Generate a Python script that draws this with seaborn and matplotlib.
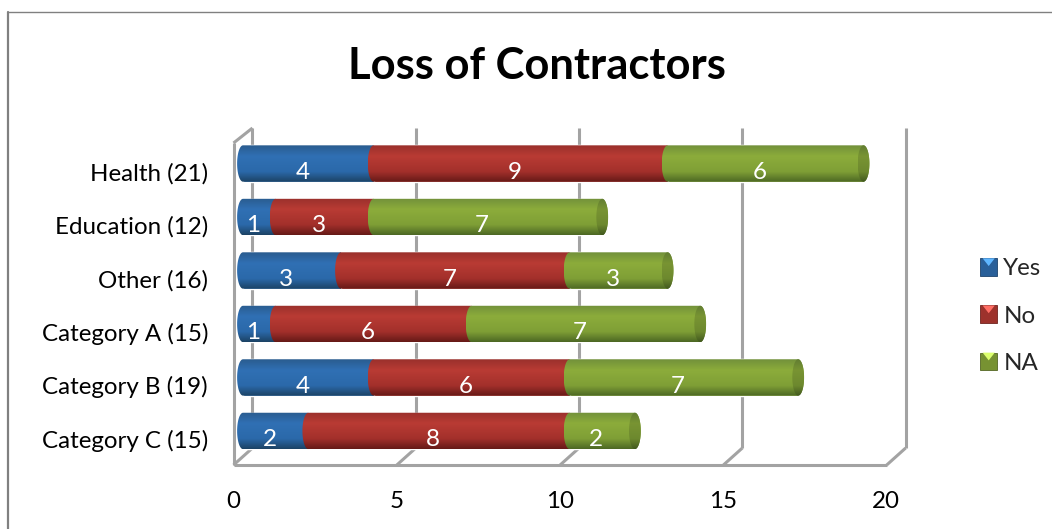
import numpy as np
import pandas as pd
import seaborn as sns
import matplotlib.pyplot as plt
from matplotlib.colors import to_rgb
from matplotlib.legend_handler import HandlerBase
from matplotlib.lines import Line2D
from matplotlib.patches import PathPatch, Polygon, Rectangle
from matplotlib.path import Path
from matplotlib.transforms import ScaledTranslation

categories = ['Health (21)', 'Education (12)', 'Other (16)',
              'Category A (15)', 'Category B (19)', 'Category C (15)']
yes_vals = [4, 1, 3, 1, 4, 2]
no_vals = [9, 3, 7, 6, 6, 8]
na_vals = [6, 7, 3, 7, 7, 2]
x_ticks = [0, 5, 10, 15, 20]

W, H = 1052, 529
DEPTH = 0.29  # half of the 3d depth, in x units
CAP = 0.18    # ellipse at the bar ends

blue = ['#2a5c8f', '#3070b4', '#2b69aa', '#1c4365']
red = ['#9a302c', '#b93b34', '#a3302b', '#661a17']
green = ['#72913a', '#8cac3b', '#7f9f36', '#4d6824']
grey = '#a3a3a3'

sns.set_theme(style='white')
plt.rcParams['font.family'] = ['Lato', 'DejaVu Sans']

df = pd.DataFrame({'cat': categories, 'Yes': yes_vals, 'No': no_vals, 'NA': na_vals})

fig = plt.figure(figsize=(W / 100, H / 100), dpi=100)
ax = fig.add_axes([233 / W, 1 - 465 / H, 672 / W, 337 / H])

series = [('Yes', blue), ('No', red), ('NA', green)]
left = np.zeros(len(categories))
starts = {}
for name, cols in series:
    starts[name] = left.copy()
    sns.barplot(data=df, y='cat', x=name, color=cols[1], left=left, width=0.68,
                orient='h', label=name, ax=ax, zorder=3, saturation=1)
    left = left + df[name].to_numpy()


def make_grad(cols, scale=1.0):
    stops = [0, 0.3, 0.72, 1]
    rgb = np.array([to_rgb(c) for c in cols]) * scale
    pos = np.linspace(0, 1, 64)
    return np.stack([np.interp(pos, stops, rgb[:, i]) for i in range(3)], axis=1)[:, None, :]


def cylinder(x0, x1, yc, h, cols, z, right_cap=False):
    # vertical shading clipped to a bar shape with a rounded left side
    t = np.linspace(-np.pi / 2, np.pi / 2, 40)
    yy = yc + h / 2 * np.sin(t)
    xl = x0 - CAP * np.cos(t)
    if right_cap:
        xr = x1 + CAP * np.cos(t)[::-1]
    else:
        xr = np.full(t.shape, x1)
    verts = np.vstack([np.c_[xl, yy], np.c_[xr, yy[::-1]], [xl[0], yy[0]]])
    codes = [Path.MOVETO] + [Path.LINETO] * (len(verts) - 2) + [Path.CLOSEPOLY]
    im = ax.imshow(make_grad(cols), extent=(x0 - CAP, x1 + CAP, yc + h / 2, yc - h / 2),
                   aspect='auto', zorder=z, interpolation='bilinear')
    im.set_clip_path(PathPatch(Path(verts, codes), transform=ax.transData))


label_shift = ScaledTranslation(-6 / 100, -9 / 100, fig.dpi_scale_trans)
for s, (name, cols) in enumerate(series):
    vals = df[name].to_numpy()
    for i, v in enumerate(vals):
        x0 = starts[name][i]
        cylinder(x0, x0 + v, i, 0.68, cols, 4 + s, right_cap=(name == 'NA'))
        ax.text(x0 + v / 2, i, str(v), color='white', fontsize=17.5, ha='center',
                va='center', zorder=10, transform=ax.transData + label_shift)
    if name == 'NA':
        # darker end of the cylinder
        for i, v in enumerate(vals):
            end = starts[name][i] + v
            t = np.linspace(0, 2 * np.pi, 60)
            verts = np.c_[end + CAP * np.cos(t), i + 0.34 * np.sin(t)]
            im = ax.imshow(make_grad(cols, 0.86), extent=(end - CAP, end + CAP, i + 0.34, i - 0.34),
                           aspect='auto', zorder=8, interpolation='bilinear')
            im.set_clip_path(PathPatch(Path(verts), transform=ax.transData))

ax.set_xlim(-0.306, 20.27)
ax.set_ylim(5.637, -0.664)
for sp in ax.spines.values():
    sp.set_visible(False)
ax.set_xlabel('')
ax.set_ylabel('')
ax.set_xticks(x_ticks)
ax.tick_params(axis='both', length=0)
ax.tick_params(axis='x', labelsize=17.4, pad=19, labelcolor='black')
ax.tick_params(axis='y', labelsize=17.4, pad=18, labelcolor='black')
shift_x = ScaledTranslation(-10 / 100, 0, fig.dpi_scale_trans)
shift_y = ScaledTranslation(0, -8 / 100, fig.dpi_scale_trans)
for lab in ax.get_xticklabels():
    lab.set_transform(lab.get_transform() + shift_x)
for lab in ax.get_yticklabels():
    lab.set_transform(lab.get_transform() + shift_y)

# 3d box: back wall verticals, floor, left side
y_back = 5.637 - 17 / 53.5
y_top = -0.664
y_side = -0.664 + 15 / 53.5
line_kw = dict(color=grey, lw=2.2, zorder=1, clip_on=False, solid_capstyle='butt')
for t in x_ticks:
    ax.plot([t + DEPTH, t + DEPTH], [y_top, y_back], **line_kw)
    ax.plot([t - DEPTH, t + DEPTH], [5.637, y_back], **line_kw)
ax.plot([-DEPTH, 20 - DEPTH], [5.637, 5.637], **line_kw)
ax.plot([-DEPTH, -DEPTH], [5.637, y_side], **line_kw)
ax.plot([-DEPTH, DEPTH], [y_side, y_top], **line_kw)

# chart frame, open on the right and bottom
fig.add_artist(Line2D([8 / W, 8 / W], [0, 1 - 12 / H], color='#808080', lw=1.6))
fig.add_artist(Line2D([8 / W, 1], [1 - 12 / H, 1 - 12 / H], color='#808080', lw=1))

fig.text(537 / W, 1 - 66 / H, 'Loss of Contractors', fontsize=31.3, fontweight='bold',
         color='black', ha='center', va='center')


class BevelHandler(HandlerBase):
    # legend key: flat square with a lighter triangle along the top
    def create_artists(self, legend, orig, xd, yd, width, height, fontsize, trans):
        col = np.array(to_rgb(orig.patches[0].get_facecolor()))
        base = Rectangle((-xd, -yd), width, height, facecolor=col * 0.85,
                         edgecolor=col * 0.6, lw=0.6, transform=trans)
        light = np.clip(col * 1.35 + 0.12, 0, 1)
        tri = Polygon([(-xd + 0.15 * width, -yd + height), (-xd + 0.85 * width, -yd + height),
                       (-xd + 0.5 * width, -yd + 0.55 * height)],
                      facecolor=light, edgecolor='none', transform=trans)
        return [base, tri]


handles, labels = ax.get_legend_handles_labels()
ax.legend(handles, labels, loc='center left', bbox_to_anchor=(980 / W, 1 - 316 / H),
          bbox_transform=fig.transFigure, frameon=False, fontsize=17.4, handlelength=0.72,
          handleheight=0.72, handletextpad=0.25, labelspacing=1.08, borderpad=0, borderaxespad=0,
          handler_map={h: BevelHandler() for h in handles})

fig.savefig('out.png', dpi=100, facecolor='white')
